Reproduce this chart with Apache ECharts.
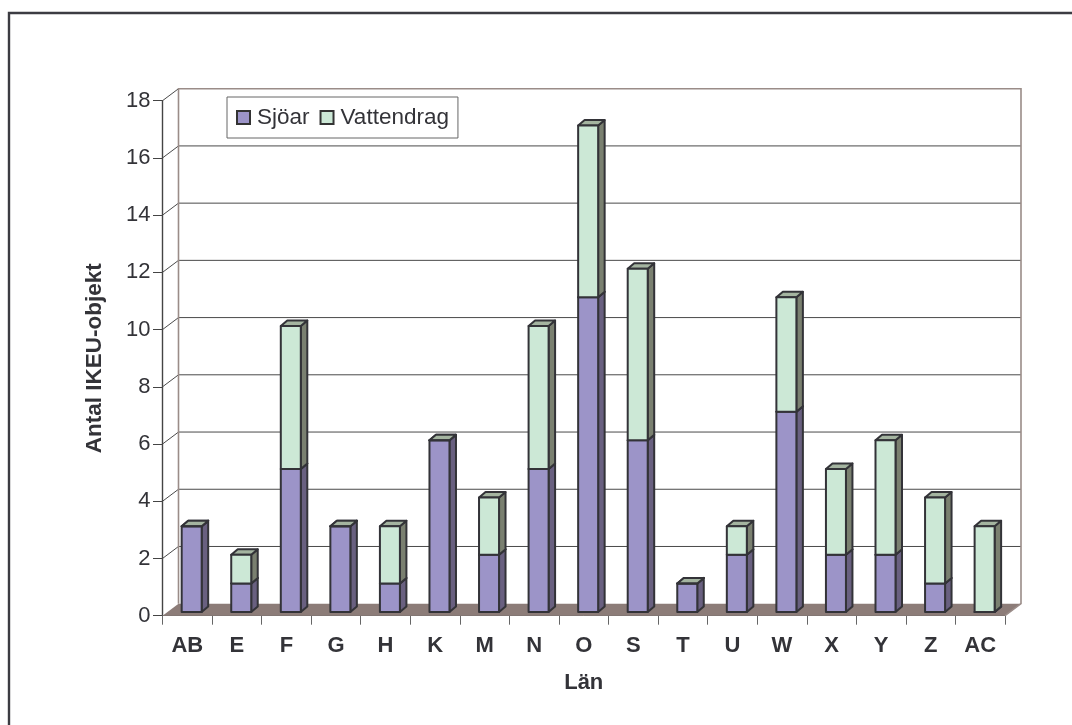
<!DOCTYPE html>
<html><head><meta charset="utf-8">
<style>html,body{margin:0;padding:0;background:#fff}#c{width:1072px;height:725px}</style>
<script src="https://cdn.jsdelivr.net/npm/echarts@6/dist/echarts.min.js"></script>
</head><body><div id="c"></div>
<script>
const categories = ['AB','E','F','G','H','K','M','N','O','S','T','U','W','X','Y','Z','AC'];
const sjoar = [3,1,5,3,1,6,2,5,11,6,1,2,7,2,2,1,0];
const vattendrag = [0,1,5,0,2,0,2,5,6,6,0,1,4,3,4,3,3];
const yTicks = [0,2,4,6,8,10,12,14,16,18];

const DX = 16, DY = -12;
const FONT = '"Liberation Sans", Arial, sans-serif';
const TXT = '#333338';

function wall(params, api) {
  const cs = params.coordSys;
  const L = cs.x, R = cs.x + cs.width, B = cs.y + cs.height, T = cs.y;
  const kids = [];
  kids.push({type:'polygon', shape:{points:[[L,B],[R,B],[R+DX,B+DY],[L+DX,B+DY]]}, style:{fill:'#8c7c78', stroke:null}});
  yTicks.forEach(t => {
    if (t === 0 || t === 18) return;
    const y = api.coord([0,t])[1];
    kids.push({type:'polyline', shape:{points:[[L,y],[L+DX,y+DY],[R+DX,y+DY]]}, style:{fill:null, stroke:'#4a4a4a', lineWidth:1}});
  });
  kids.push({type:'polyline', shape:{points:[[L,T],[L+DX,T+DY]]}, style:{fill:null, stroke:'#4a4a4a', lineWidth:1}});
  kids.push({type:'polyline', shape:{points:[[L+DX,B+DY],[L+DX,T+DY],[R+DX,T+DY],[R+DX,B+DY],[R,B]]}, style:{fill:null, stroke:'#9a8c88', lineWidth:1.6}});
  return {type:'group', children:kids};
}

function bar(colors) {
  return function (params, api) {
    const cx = api.coord([api.value(0), 0])[0] + 4.4;
    const w = 20, dx = 6.5, dy = -5.5, lift = -3.7;
    const x0 = cx - w / 2, x1 = cx + w / 2;
    const yb = api.coord([0, api.value(1)])[1] + lift;
    const yt = api.coord([0, api.value(2)])[1] + lift;
    const st = {stroke:'#333338', lineWidth:2, lineJoin:'round'};
    return {type:'group', children:[
      {type:'polygon', shape:{points:[[x1,yb],[x1+dx,yb+dy],[x1+dx,yt+dy],[x1,yt]]}, style:Object.assign({fill:colors.side}, st)},
      {type:'polygon', shape:{points:[[x0,yt],[x1,yt],[x1+dx,yt+dy],[x0+dx,yt+dy]]}, style:Object.assign({fill:colors.top}, st)},
      {type:'polygon', shape:{points:[[x0,yb],[x1,yb],[x1,yt],[x0,yt]]}, style:Object.assign({fill:colors.front}, st)}
    ]};
  };
}

let acc = sjoar.map(() => 0);
function stackData(vals) {
  const d = vals.map((v, i) => [i, acc[i], acc[i] + v]);
  acc = acc.map((a, i) => a + vals[i]);
  return d;
}
const purple = {front:'#9c94c8', side:'#696080', top:'#a4b0a0'};
const green = {front:'#cce8d6', side:'#7a8070', top:'#a4b4a0'};

const chart = echarts.init(document.getElementById('c'), null, {renderer:'canvas'});
chart.setOption({
  animation:false,
  backgroundColor:'#fff',
  grid:{left:162.5, right:67, top:100.7, bottom:109.3, containLabel:false},
  graphic:[{type:'polyline', silent:true, z:-1, shape:{points:[[9,725],[9,13],[1072,13]]}, style:{fill:null, stroke:'#3c3c42', lineWidth:2.4}}],
  legend:{
    show:true, left:227, top:97, orient:'horizontal',
    data:['Sjöar','Vattendrag'],
    itemWidth:13, itemHeight:13, itemGap:10,
    padding:[9,9,9,9],
    borderColor:'#666', borderWidth:1, backgroundColor:'#fff',
    selectedMode:false,
    textStyle:{fontFamily:FONT, fontSize:22.5, color:TXT, padding:[0,0,0,2]},
    icon:'rect'
  },
  xAxis:{type:'category', data:categories,
    name:'Län', nameLocation:'middle', nameGap:56,
    nameTextStyle:{fontFamily:FONT, fontSize:22, fontWeight:'bold', color:TXT},
    axisLine:{lineStyle:{color:'#666', width:1}},
    axisTick:{show:true, length:9, lineStyle:{color:'#666'}},
    axisLabel:{fontFamily:FONT, fontSize:22, fontWeight:'bold', color:TXT, margin:19, interval:0}
  },
  yAxis:{type:'value', min:0, max:18, interval:2,
    name:'Antal IKEU-objekt', nameLocation:'middle', nameGap:56, nameRotate:90,
    nameTextStyle:{fontFamily:FONT, fontSize:22.5, fontWeight:'bold', color:TXT},
    splitLine:{show:false},
    axisLine:{show:true, lineStyle:{color:'#444', width:1.4}},
    axisTick:{show:true, length:9.5, lineStyle:{color:'#444'}},
    axisLabel:{fontFamily:FONT, fontSize:22, color:TXT, margin:12}
  },
  series:[
    {type:'custom', name:'wall', renderItem:wall, data:[[0,0]], silent:true, z:1, encode:{x:0,y:1}},
    {type:'custom', name:'Sjöar', renderItem:bar(purple), data:stackData(sjoar), itemStyle:{color:purple.front, borderColor:'#333', borderWidth:1.5}, encode:{x:0,y:2}, z:2},
    {type:'custom', name:'Vattendrag', renderItem:bar(green), data:stackData(vattendrag), itemStyle:{color:green.front, borderColor:'#333', borderWidth:1.5}, encode:{x:0,y:2}, z:3}
  ]
});
</script></body></html>
